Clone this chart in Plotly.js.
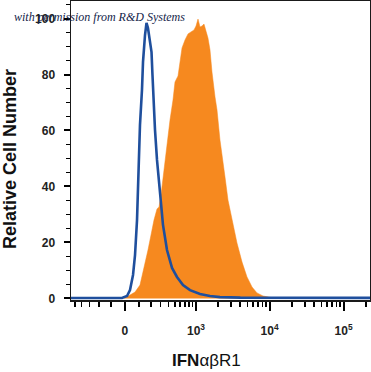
<!DOCTYPE html>
<html>
<head>
<meta charset="utf-8">
<script src="https://cdn.plot.ly/plotly-3.0.1.min.js"></script>
<style>html,body{margin:0;padding:0;background:#fff;}#chart{width:371px;height:372px;}</style>
</head>
<body>
<div id="chart"></div>
<script>
// Display position on the logicle-like axis (decade units) and relative cell number
const isotypeX = [1.25, 1.6, 1.9, 2.000, 2.068, 2.108, 2.149, 2.176, 2.203, 2.216, 2.230, 2.243, 2.270, 2.284, 2.311, 2.331, 2.351, 2.378, 2.399, 2.412, 2.426, 2.446, 2.473, 2.514, 2.554, 2.608, 2.676, 2.743, 2.824, 2.919, 3.054, 3.189, 3.324, 3.6, 4.0, 4.5, 5.0, 5.4];
const isotypeY = [0.2, 0.2, 0.2, 0.2, 0.9, 3.0, 8.4, 15.5, 28.0, 38.8, 49.5, 62.0, 74.5, 84.5, 94.1, 98.4, 96.6, 91.6, 88.0, 79.8, 69.1, 60.2, 49.5, 38.8, 26.3, 17.3, 10.9, 7.7, 4.8, 3.0, 1.6, 0.9, 0.5, 0.3, 0.3, 0.2, 0.2, 0.2];

const stainedX = [2.030, 2.054, 2.108, 2.176, 2.243, 2.311, 2.351, 2.392, 2.432, 2.473, 2.500, 2.527, 2.554, 2.581, 2.608, 2.649, 2.689, 2.716, 2.757, 2.784, 2.811, 2.851, 2.892, 2.932, 2.973, 3.000, 3.027, 3.054, 3.081, 3.108, 3.135, 3.162, 3.189, 3.216, 3.257, 3.284, 3.324, 3.365, 3.392, 3.432, 3.459, 3.514, 3.554, 3.622, 3.689, 3.757, 3.824, 3.905, 4.000, 4.135];
const stainedY = [0, 0.4, 1.25, 2.3, 4.8, 12.0, 17.3, 22.7, 28.0, 32.0, 32.7, 37.0, 43.0, 49.5, 56.6, 63.8, 70.9, 77.3, 79.5, 84.5, 89.5, 92.3, 94.5, 95.2, 95.9, 97.3, 99.8, 97.0, 97.3, 98.0, 95.9, 93.0, 88.8, 80.9, 72.0, 67.3, 56.6, 49.5, 43.4, 35.2, 31.6, 24.5, 19.8, 13.0, 7.7, 4.1, 2.0, 0.9, 0.4, 0];

const xTickValues = [0, 1e3, 1e4, 1e5];
const xTickLabels = ['0', '10<sup>3</sup>', '10<sup>4</sup>', '10<sup>5</sup>'];
const xMinorValues = [-500, -400, -300, -200, -100, 100, 200, 300, 400, 500, 600, 700, 800, 900,
  2000, 3000, 4000, 5000, 6000, 7000, 8000, 9000,
  20000, 30000, 40000, 50000, 60000, 70000, 80000, 90000, 200000];
const yTickValues = [0, 20, 40, 60, 80, 100];
const yTickLabels = ['0', '20', '40', '60', '80', '100'];

// logicle-like transform to display decades
function disp(v) { return 2.04 + Math.asinh(v / 222) / Math.LN10; }

const blue = '#1f4f9d';
const orange = '#f6891f';

const traces = [
  { x: stainedX, y: stainedY, type: 'scatter', mode: 'lines', fill: 'tozeroy',
    fillcolor: orange, line: { color: orange, width: 0.5, shape: 'linear' }, hoverinfo: 'skip' },
  { x: isotypeX, y: isotypeY, type: 'scatter', mode: 'lines',
    line: { color: blue, width: 2.6 }, hoverinfo: 'skip' }
];

const tickFont = { family: 'Liberation Sans, Arial, sans-serif', size: 12, color: '#222', weight: 'bold' };

const layout = {
  width: 371, height: 372,
  margin: { l: 71, r: 1, t: 1, b: 72, pad: 0 },
  paper_bgcolor: '#fff', plot_bgcolor: '#fff',
  showlegend: false,
  xaxis: {
    range: [1.311, 5.351], showgrid: false, zeroline: false,
    showline: true, mirror: true, linecolor: '#1a1a1a', linewidth: 1.5,
    tickmode: 'array', tickvals: xTickValues.map(disp), ticktext: xTickLabels,
    ticks: 'outside', ticklen: 9, tickwidth: 2, tickcolor: '#000',
    ticklabelstandoff: 10,
    tickfont: tickFont,
    minor: { tickmode: 'array', tickvals: xMinorValues.map(disp), ticks: 'outside', ticklen: 5, tickwidth: 1.5, tickcolor: '#000', showgrid: false }
  },
  yaxis: {
    range: [-0.54, 106.25], showgrid: false, zeroline: false,
    showline: true, mirror: true, linecolor: '#1a1a1a', linewidth: 1.5,
    tickmode: 'array', tickvals: yTickValues, ticktext: yTickLabels,
    ticks: 'outside', ticklen: 6, tickwidth: 2, tickcolor: '#000',
    ticklabelstandoff: 6,
    tickfont: tickFont,
    minor: { dtick: 5, ticks: 'outside', ticklen: 4, tickwidth: 1.5, tickcolor: '#000', showgrid: false }
  },
  annotations: [
    { text: '<b>IFN</b>αβR1', xref: 'paper', yref: 'paper', x: 0.453, y: -0.204,
      xanchor: 'center', yanchor: 'middle', showarrow: false,
      font: { family: 'Liberation Sans, Arial, sans-serif', size: 17, color: '#111' } },
    { text: '<b>Relative Cell Number</b>', xref: 'paper', yref: 'paper', x: -0.204, y: 0.4716,
      xanchor: 'center', yanchor: 'middle', textangle: -90, showarrow: false,
      font: { family: 'Liberation Sans, Arial, sans-serif', size: 18, color: '#111' } },
    { text: '<i>with permission from R&amp;D Systems</i>', xref: 'paper', yref: 'paper', x: -0.197, y: 0.948,
      xanchor: 'left', yanchor: 'middle', showarrow: false,
      font: { family: 'Liberation Serif, serif', size: 12, color: '#14244a' } }
  ]
};

Plotly.newPlot('chart', traces, layout, { staticPlot: true, displayModeBar: false });
</script>
</body>
</html>
